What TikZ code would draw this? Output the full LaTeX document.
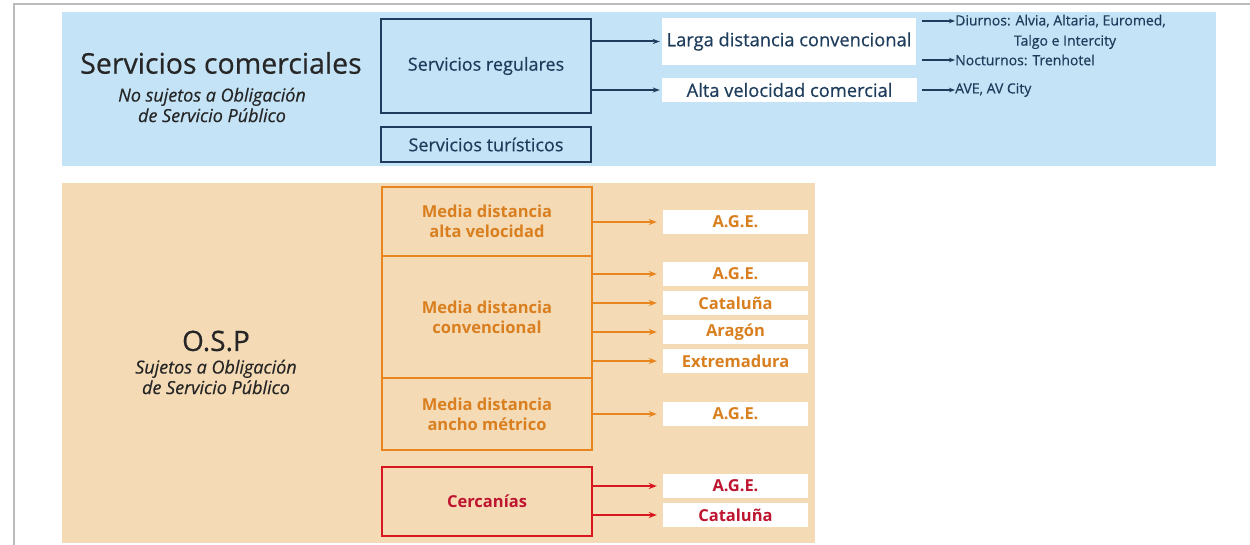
\documentclass[tikz,border=0pt]{standalone}
\usepackage{fontspec}
\setmainfont{Open Sans}
\newfontfamily\heavy{Open Sans}[FakeBold=0.5]
\newfontfamily\heavyit{Open Sans Italic}[FakeBold=0.4]
\usetikzlibrary{arrows.meta}
\definecolor{bluebg}{HTML}{C5E3F6}
\definecolor{navy}{HTML}{1E3D5C}
\definecolor{beige}{HTML}{F4DAB5}
\definecolor{orng}{HTML}{E8851E}
\definecolor{orngtxt}{HTML}{DA7F1F}
\definecolor{redb}{HTML}{D8161F}
\definecolor{redtxt}{HTML}{BE1530}
\definecolor{framegray}{HTML}{BBBBBB}
\begin{document}
\begin{tikzpicture}[x=1pt,y=-1pt,
  navybox/.style={draw=navy,line width=2.6pt,text=navy,minimum width=210,inner sep=0pt,font=\heavy\fontsize{18}{20}\selectfont},
  whitebox/.style={fill=white,inner sep=0pt,minimum height=24},
  obox/.style={draw=orng,line width=2.4pt,text=orngtxt,minimum width=210,inner sep=0pt,align=center,font=\bfseries\fontsize{16.5}{20}\selectfont},
  rbox/.style={draw=redb,line width=2.4pt,text=redtxt,minimum width=210,inner sep=0pt,align=center,font=\bfseries\fontsize{16.5}{20}\selectfont},
  owhite/.style={whitebox,minimum width=145,text=orngtxt,font=\bfseries\fontsize{16.5}{20}\selectfont},
  rwhite/.style={whitebox,minimum width=145,text=redtxt,font=\bfseries\fontsize{16.5}{20}\selectfont},
  narrow/.style={navy,line width=2pt,-{Stealth[length=7pt,width=5pt]}},
  nsmall/.style={navy,line width=1.3pt,-{Stealth[length=6pt,width=4.5pt]}},
  oarrow/.style={orng,line width=2.4pt,-{Stealth[length=8pt,width=6pt]},shorten >=6pt},
  rarrow/.style={redb,line width=2.4pt,-{Stealth[length=8pt,width=6pt]},shorten >=6pt},
  smalltxt/.style={text=navy,inner sep=0pt,font=\heavy\fontsize{14}{16}\selectfont},
  title/.style={text=black!85,font=\heavy\fontsize{28.5}{32}\selectfont},
  subtitle/.style={text=black!85,align=center,font=\heavyit\fontsize{18}{20.5}\selectfont},
]
\useasboundingbox (0,0) rectangle (1250,545);
\fill[white] (0,0) rectangle (1250,545);
\draw[framegray,line width=2pt] (14,545) -- (14,4) -- (1250,4);
\fill[bluebg] (62,12) rectangle (1216,166);
\fill[beige] (62,183) rectangle (815,543);

% left titles
\node[title] (sc) at (221,63) {Servicios comerciales};
\node[subtitle] (scsub) at (212,105) {No sujetos a Obligación\\de Servicio Público};
\node[title,font=\heavy\fontsize{28}{32}\selectfont] (osp) at (216,341) {O.S.P};
\node[subtitle] (ospsub) at (216,377) {Sujetos a Obligación\\de Servicio Público};

% blue part
\node[navybox,minimum height=94] (sr) at (486,66) {Servicios regulares};
\node[navybox,minimum height=35] (st) at (486,144.5) {Servicios turísticos};
\node[whitebox,minimum width=254,minimum height=47,text=navy,font=\heavy\fontsize{18.3}{20}\selectfont] (ld) at (789,41.5) {Larga distancia convencional};
\node[whitebox,minimum width=255,text=navy,font=\heavy\fontsize{18.3}{20}\selectfont] (av) at (789.5,90) {Alta velocidad comercial};
\draw[narrow,shorten >=2pt] (sr.east |- ld.west) -- (ld.west);
\draw[narrow,shorten >=2pt] (sr.east |- av.west) -- (av.west);

\node[smalltxt,anchor=west] (d1) at (955,21) {Diurnos: Alvia, Altaria, Euromed,};
\node[smalltxt] (d2) at (1065,42) {Talgo e Intercity};
\node[smalltxt,anchor=west] (nt) at (955,60) {Nocturnos: Trenhotel};
\node[smalltxt,anchor=west] (ave) at (955,90) {AVE, AV City};
\coordinate (c1) at (922,21);
\coordinate (c2) at (922,60);
\coordinate (c3) at (922,90);
\draw[nsmall] (c1) -- (d1.west);
\draw[nsmall] (c2) -- (nt.west);
\draw[nsmall] (c3) -- (ave.west);

% orange part
\node[obox,minimum height=69] (mdav) at (487,221.5) {Media distancia\\alta velocidad};
\node[obox,minimum height=122] (mdc) at (487,317) {Media distancia\\convencional};
\node[obox,minimum height=72] (mdam) at (487,414) {Media distancia\\ancho métrico};
\node[rbox,minimum height=69] (cer) at (487,501.5) {Cercanías};

\node[owhite] (o1) at (735.5,222) {A.G.E.};
\node[owhite] (o2) at (735.5,274) {A.G.E.};
\node[owhite] (o3) at (735.5,303) {Cataluña};
\node[owhite] (o4) at (735.5,332) {Aragón};
\node[owhite] (o5) at (735.5,361) {Extremadura};
\node[owhite] (o6) at (735.5,414) {A.G.E.};
\node[rwhite] (r1) at (735.5,486) {A.G.E.};
\node[rwhite] (r2) at (735.5,515) {Cataluña};

\draw[oarrow] (mdav.east |- o1.west) -- (o1.west);
\draw[oarrow] (mdc.east |- o2.west) -- (o2.west);
\draw[oarrow] (mdc.east |- o3.west) -- (o3.west);
\draw[oarrow] (mdc.east |- o4.west) -- (o4.west);
\draw[oarrow] (mdc.east |- o5.west) -- (o5.west);
\draw[oarrow] (mdam.east |- o6.west) -- (o6.west);
\draw[rarrow] (cer.east |- r1.west) -- (r1.west);
\draw[rarrow] (cer.east |- r2.west) -- (r2.west);
\end{tikzpicture}
\end{document}
